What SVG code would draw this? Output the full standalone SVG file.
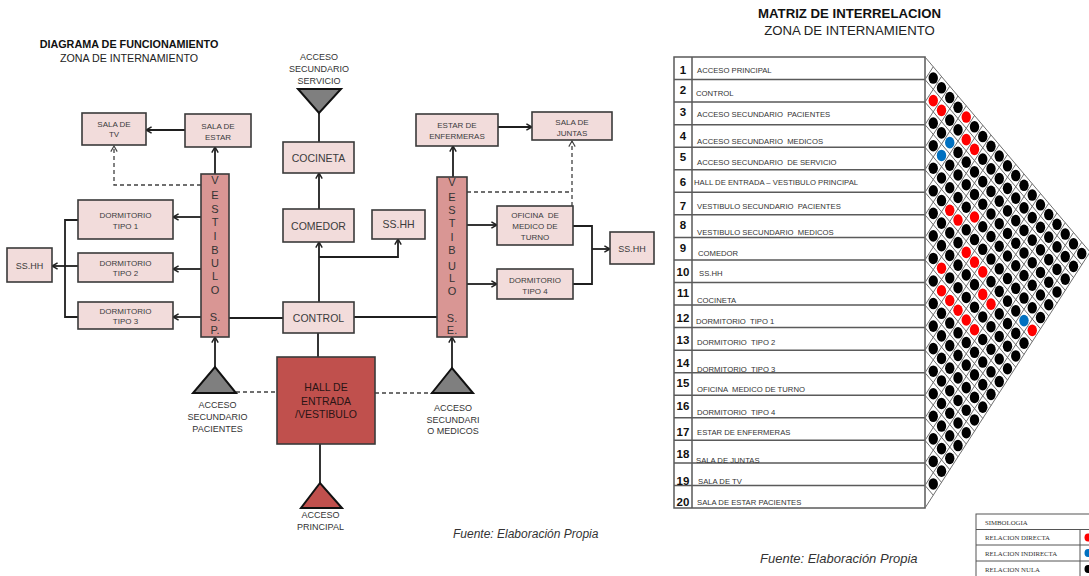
<svg xmlns="http://www.w3.org/2000/svg" xmlns:xlink="http://www.w3.org/1999/xlink" width="1089" height="576" viewBox="0 0 1089 576">
<style>
  text { font-family: "Liberation Sans", Arial, sans-serif; }
  .box { fill: #f2dcdb; stroke: #3a3a3a; stroke-width: 1.6; }
  .vest { fill: #d99694; stroke: #3a3a3a; stroke-width: 1.6; }
  .hall { fill: #c0504d; stroke: #3a3a3a; stroke-width: 1.6; }
  .tri { fill: #7f7f7f; stroke: #111; stroke-width: 2; }
  .tri-red { fill: #c0504d; stroke: #111; stroke-width: 2; }
  .t8 { font-size: 8px; fill: #3b3b3b; text-anchor: middle; white-space: pre; }
  .t10 { font-size: 10.5px; fill: #3b3b3b; text-anchor: middle; }
  .t9 { font-size: 9px; fill: #333; text-anchor: middle; }
  .tv { font-size: 11px; fill: #333; text-anchor: middle; }
  .ln { fill: none; stroke: #1f1f1f; stroke-width: 1.8; }
  .arr { marker-end: url(#ah); }
  .dash { fill: none; stroke: #404040; stroke-width: 1.3; stroke-dasharray: 4 3; }
  .title { font-size: 10.8px; font-weight: bold; fill: #111; text-anchor: middle; }
  .sub { font-size: 10.7px; fill: #222; text-anchor: middle; }
  .src { font-style: italic; fill: #333; }
  .tbl { fill: none; stroke: #5a5a5a; stroke-width: 1.5; }
  .num { font-size: 11.5px; font-weight: bold; fill: #111; text-anchor: middle; }
  .lbl { font-size: 7.7px; fill: #333; white-space: pre; }
  .grid { fill: none; stroke: #6e6e6e; stroke-width: 1; }
  .k { fill: #000; }
  .r { fill: #ff0000; }
  .b { fill: #0070c0; }
  .leg { font-family: "Liberation Serif", "Times New Roman", serif; font-size: 6.8px; fill: #333; }
</style>
<defs>
  <marker id="ah" viewBox="0 0 10 10" refX="9" refY="5" markerWidth="8" markerHeight="8" markerUnits="userSpaceOnUse" orient="auto">
    <path d="M2,1 L9,5 L2,9" fill="none" stroke="#1f1f1f" stroke-width="1.8"/>
  </marker>
  <marker id="ahd" viewBox="0 0 10 10" refX="9" refY="5" markerWidth="8" markerHeight="8" markerUnits="userSpaceOnUse" orient="auto">
    <path d="M2,1 L9,5 L2,9" fill="none" stroke="#404040" stroke-width="1.4"/>
  </marker>
  <ellipse id="dot" cx="0" cy="0" rx="4.7" ry="5.8"/>
</defs>

<rect width="1089" height="576" fill="#fff"/>

<!-- ===== Functional diagram ===== -->
<text class="title" x="129" y="48">DIAGRAMA DE FUNCIONAMIENTO</text>
<text class="sub" x="129" y="62">ZONA DE INTERNAMIENTO</text>

<g id="connectors">
  <path class="ln arr" d="M185,130 H146"/>
  <path class="ln arr" d="M215,174 V147"/>
  <path class="dash" d="M201,185 H114 V146" marker-end="url(#ahd)"/>
  <path class="ln arr" d="M201,217 H173"/>
  <path class="ln arr" d="M201,269 H173"/>
  <path class="ln arr" d="M201,317 H173"/>
  <path class="ln" d="M78,220 H65 V317 H78"/>
  <path class="ln arr" d="M78,266 H52"/>
  <path class="ln" d="M229,318 H283"/>
  <path class="ln" d="M354,317 H437"/>
  <path class="ln arr" d="M319,302 V242"/>
  <path class="ln arr" d="M319,257 H398 V239"/>
  <path class="ln arr" d="M319,209 V173"/>
  <path class="ln" d="M319,113 V142"/>
  <path class="ln" d="M318,333 V357"/>
  <path class="ln" d="M320,444 V483"/>
  <path class="ln arr" d="M215,367 V337"/>
  <path class="dash" d="M236,392 H277"/>
  <path class="ln arr" d="M452,368 V337"/>
  <path class="dash" d="M375,393 H432"/>
  <path class="ln arr" d="M453,177 V146"/>
  <path class="ln arr" d="M498,127 H532"/>
  <path class="dash" d="M467,192 H572"/>
  <path class="dash" d="M572,206 V141" marker-end="url(#ahd)"/>
  <path class="ln arr" d="M467,225 H497"/>
  <path class="ln arr" d="M467,284 H497"/>
  <path class="ln" d="M573,226 H592 V284 H573"/>
  <path class="ln arr" d="M592,249 H610"/>
</g>

<g id="sala-tv"><rect class="box" x="82" y="113" width="64" height="32"/>
  <text class="t8" x="114" y="127.3">SALA DE</text><text class="t8" x="114" y="137">TV</text></g>
<g id="sala-estar"><rect class="box" x="185" y="114" width="66" height="33"/>
  <text class="t8" x="218" y="129">SALA DE</text><text class="t8" x="218" y="139.5">ESTAR</text></g>
<g id="dorm-1"><rect class="box" x="78" y="200" width="95" height="39"/>
  <text class="t8" x="125.5" y="218">DORMITORIO</text><text class="t8" x="125.5" y="228.7">TIPO 1</text></g>
<g id="dorm-2"><rect class="box" x="78" y="253" width="95" height="29"/>
  <text class="t8" x="125.5" y="265.5">DORMITORIO</text><text class="t8" x="125.5" y="276.2">TIPO 2</text></g>
<g id="dorm-3"><rect class="box" x="78" y="302" width="95" height="27"/>
  <text class="t8" x="125.5" y="313.5">DORMITORIO</text><text class="t8" x="125.5" y="324">TIPO 3</text></g>
<g id="sshh-left"><rect class="box" x="7" y="248" width="45" height="34"/>
  <text class="t9" x="29.5" y="269.3" style="fill:#3b3b3b">SS.HH</text></g>
<g id="vestibulo-sp"><rect class="vest" x="201" y="174" width="28" height="163"/>
  <text class="tv" x="215" y="184">V</text><text class="tv" x="215" y="199">E</text>
  <text class="tv" x="215" y="212.5">S</text><text class="tv" x="215" y="226">T</text>
  <text class="tv" x="215" y="240">I</text><text class="tv" x="215" y="254">B</text>
  <text class="tv" x="215" y="266.5">U</text><text class="tv" x="215" y="280">L</text>
  <text class="tv" x="215" y="294">O</text>
  <text class="tv" x="215" y="320.5">S.</text><text class="tv" x="215" y="334">P.</text></g>
<g id="cocineta"><rect class="box" x="283" y="142" width="71" height="31"/>
  <text class="t10" x="318.5" y="162">COCINETA</text></g>
<g id="comedor"><rect class="box" x="283" y="209" width="71" height="33"/>
  <text class="t10" x="318.5" y="229.8">COMEDOR</text></g>
<g id="control"><rect class="box" x="283" y="302" width="71" height="31"/>
  <text class="t10" x="318.5" y="322">CONTROL</text></g>
<g id="sshh-mid"><rect class="box" x="372" y="210" width="53" height="29"/>
  <text class="t10" x="398.5" y="228">SS.HH</text></g>
<g id="vestibulo-se"><rect class="vest" x="437" y="177" width="30" height="160"/>
  <text class="tv" x="452" y="185.5">V</text><text class="tv" x="452" y="200.5">E</text>
  <text class="tv" x="452" y="214">S</text><text class="tv" x="452" y="227">T</text>
  <text class="tv" x="452" y="240.5">I</text><text class="tv" x="452" y="254">B</text>
  <text class="tv" x="452" y="269.5">U</text><text class="tv" x="452" y="281.5">L</text>
  <text class="tv" x="452" y="295">O</text>
  <text class="tv" x="452" y="322">S.</text><text class="tv" x="452" y="334">E.</text></g>
<g id="estar-enfermeras"><rect class="box" x="416" y="114" width="82" height="32"/>
  <text class="t8" x="457" y="128">ESTAR DE</text><text class="t8" x="457" y="138.7">ENFERMERAS</text></g>
<g id="sala-juntas"><rect class="box" x="532" y="112" width="80" height="28"/>
  <text class="t8" x="572" y="124.7">SALA DE</text><text class="t8" x="572" y="135.7">JUNTAS</text></g>
<g id="oficina-medico"><rect class="box" x="497" y="206" width="76" height="39"/>
  <text class="t8" x="535" y="218">OFICINA  DE</text><text class="t8" x="535" y="229">MEDICO DE</text>
  <text class="t8" x="535" y="240.3">TURNO</text></g>
<g id="dorm-4"><rect class="box" x="497" y="269" width="76" height="30"/>
  <text class="t8" x="535" y="283">DORMITORIO</text><text class="t8" x="535" y="294">TIPO 4</text></g>
<g id="sshh-right"><rect class="box" x="610" y="232" width="44" height="32"/>
  <text class="t9" x="632" y="252.3" style="fill:#3b3b3b">SS.HH</text></g>
<g id="hall"><rect class="hall" x="277" y="357" width="98" height="87"/>
  <text class="t10" x="326" y="391" style="fill:#2a1515">HALL DE</text>
  <text class="t10" x="326" y="405" style="fill:#2a1515">ENTRADA</text>
  <text class="t10" x="326" y="418" style="fill:#2a1515">/VESTIBULO</text></g>

<g id="acceso-servicio"><polygon class="tri" points="298,89 341,89 319,113"/>
  <text class="t9" x="319" y="59.5">ACCESO</text><text class="t9" x="319" y="71.5">SECUNDARIO</text>
  <text class="t9" x="319" y="83.5">SERVICIO</text></g>
<g id="acceso-pacientes"><polygon class="tri" points="193,393 236,393 215,367"/>
  <text class="t9" x="217.5" y="407.5">ACCESO</text><text class="t9" x="217.5" y="420">SECUNDARIO</text>
  <text class="t9" x="217.5" y="431.5">PACIENTES</text></g>
<g id="acceso-medicos"><polygon class="tri" points="432,393 473,393 452,368"/>
  <text class="t9" x="453" y="410.5">ACCESO</text><text class="t9" x="453" y="422.5">SECUNDARI</text>
  <text class="t9" x="453" y="434">O MEDICOS</text></g>
<g id="acceso-principal"><polygon class="tri-red" points="301,508 342,508 320,483"/>
  <text class="t9" x="320.5" y="517.5">ACCESO</text><text class="t9" x="320.5" y="529.5">PRINCIPAL</text></g>

<text class="src" x="453" y="538" font-size="12">Fuente: Elaboración Propia</text>

<!-- ===== Interrelation matrix ===== -->
<text x="849.5" y="18" style="font-size:13.2px;font-weight:bold;fill:#111;text-anchor:middle">MATRIZ DE INTERRELACION</text>
<text x="849.5" y="35" style="font-size:13.2px;fill:#222;text-anchor:middle">ZONA DE INTERNAMIENTO</text>

<g id="matrix-table">
  <rect class="tbl" x="674" y="57" width="251" height="451"/>
  <path class="tbl" d="M692,57 V508 M674,79.55 H925 M674,102.1 H925 M674,124.65 H925 M674,147.2 H925 M674,169.75 H925 M674,192.3 H925 M674,214.85 H925 M674,237.4 H925 M674,259.95 H925 M674,282.5 H925 M674,305.05 H925 M674,327.6 H925 M674,350.15 H925 M674,372.7 H925 M674,395.25 H925 M674,417.8 H925 M674,440.35 H925 M674,462.9 H925 M674,485.45 H925"/>
  <g>
    <text class="num" x="683" y="74">1</text><text class="num" x="683" y="94">2</text>
    <text class="num" x="683" y="116">3</text><text class="num" x="683" y="140">4</text>
    <text class="num" x="683" y="160.7">5</text><text class="num" x="683" y="186">6</text>
    <text class="num" x="683" y="209.7">7</text><text class="num" x="683" y="229">8</text>
    <text class="num" x="683" y="252">9</text><text class="num" x="683" y="275.7">10</text>
    <text class="num" x="683" y="297">11</text><text class="num" x="683" y="321.7">12</text>
    <text class="num" x="683" y="344">13</text><text class="num" x="683" y="366.7">14</text>
    <text class="num" x="683" y="387.3">15</text><text class="num" x="683" y="410">16</text>
    <text class="num" x="683" y="436">17</text><text class="num" x="683" y="458">18</text>
    <text class="num" x="683" y="485">19</text><text class="num" x="683" y="505.7">20</text>
  </g>
  <g>
    <text class="lbl" x="697" y="73">ACCESO PRINCIPAL</text>
    <text class="lbl" x="696" y="96">CONTROL</text>
    <text class="lbl" x="697" y="117">ACCESO SECUNDARIO  PACIENTES</text>
    <text class="lbl" x="697" y="144">ACCESO SECUNDARIO  MEDICOS</text>
    <text class="lbl" x="697" y="165">ACCESO SECUNDARIO  DE SERVICIO</text>
    <text class="lbl" x="694" y="185">HALL DE ENTRADA – VESTIBULO PRINCIPAL</text>
    <text class="lbl" x="697" y="208.5">VESTIBULO SECUNDARIO  PACIENTES</text>
    <text class="lbl" x="697" y="234.5">VESTIBULO SECUNDARIO  MEDICOS</text>
    <text class="lbl" x="698" y="256">COMEDOR</text>
    <text class="lbl" x="699" y="276">SS.HH</text>
    <text class="lbl" x="697" y="303">COCINETA</text>
    <text class="lbl" x="696" y="324">DORMITORIO  TIPO 1</text>
    <text class="lbl" x="697" y="345">DORMITORIO  TIPO 2</text>
    <text class="lbl" x="697" y="372">DORMITORIO  TIPO 3</text>
    <text class="lbl" x="697" y="392">OFICINA  MEDICO DE TURNO</text>
    <text class="lbl" x="697" y="415">DORMITORIO  TIPO 4</text>
    <text class="lbl" x="697" y="435">ESTAR DE ENFERMERAS</text>
    <text class="lbl" x="696" y="463">SALA DE JUNTAS</text>
    <text class="lbl" x="698" y="484">SALA DE TV</text>
    <text class="lbl" x="697" y="504.5">SALA DE ESTAR PACIENTES</text>
  </g>
</g>

<g id="matrix-grid">
  <!-- lines running down-right from each row boundary -->
  <path class="grid" d="M925,57 L1090,252 M925,79.55 L1081.75,264.8 M925,102.1 L1073.5,277.6 M925,124.65 L1065.25,290.4 M925,147.2 L1057,303.2 M925,169.75 L1048.75,316 M925,192.3 L1040.5,328.8 M925,214.85 L1032.25,341.6 M925,237.4 L1024,354.4 M925,259.95 L1015.75,367.2 M925,282.5 L1007.5,380 M925,305.05 L999.25,392.8 M925,327.6 L991,405.6 M925,350.15 L982.75,418.4 M925,372.7 L974.5,431.2 M925,395.25 L966.25,444 M925,417.8 L958,456.8 M925,440.35 L949.75,469.6 M925,462.9 L941.5,482.4 M925,485.45 L933.25,495.2"/>
  <!-- lines running up-right from each row boundary -->
  <path class="grid" d="M925,79.55 L933.25,66.75 M925,102.1 L941.5,76.5 M925,124.65 L949.75,86.25 M925,147.2 L958,96 M925,169.75 L966.25,105.75 M925,192.3 L974.5,115.5 M925,214.85 L982.75,125.25 M925,237.4 L991,135 M925,259.95 L999.25,144.75 M925,282.5 L1007.5,154.5 M925,305.05 L1015.75,164.25 M925,327.6 L1024,174 M925,350.15 L1032.25,183.75 M925,372.7 L1040.5,193.5 M925,395.25 L1048.75,203.25 M925,417.8 L1057,213 M925,440.35 L1065.25,222.75 M925,462.9 L1073.5,232.5 M925,485.45 L1081.75,242.25 M925,508 L1090,252"/>
</g>

<g id="matrix-dots">
  <!-- row 1 -->
  <g transform="translate(925,68.28)">
    <use href="#dot" class="k" x="8.25" y="9.75"/><use href="#dot" class="k" x="16.5" y="19.5"/><use href="#dot" class="k" x="24.75" y="29.25"/><use href="#dot" class="k" x="33" y="39"/><use href="#dot" class="r" x="41.25" y="48.75"/><use href="#dot" class="k" x="49.5" y="58.5"/><use href="#dot" class="k" x="57.75" y="68.25"/><use href="#dot" class="k" x="66" y="78"/><use href="#dot" class="k" x="74.25" y="87.75"/><use href="#dot" class="k" x="82.5" y="97.5"/><use href="#dot" class="k" x="90.75" y="107.25"/><use href="#dot" class="k" x="99" y="117"/><use href="#dot" class="k" x="107.25" y="126.75"/><use href="#dot" class="k" x="115.5" y="136.5"/><use href="#dot" class="k" x="123.75" y="146.25"/><use href="#dot" class="k" x="132" y="156"/><use href="#dot" class="k" x="140.25" y="165.75"/><use href="#dot" class="k" x="148.5" y="175.5"/><use href="#dot" class="k" x="156.75" y="185.25"/>
  </g>
  <!-- row 2 -->
  <g transform="translate(925,90.83)">
    <use href="#dot" class="r" x="8.25" y="9.75"/><use href="#dot" class="r" x="16.5" y="19.5"/><use href="#dot" class="k" x="24.75" y="29.25"/><use href="#dot" class="k" x="33" y="39"/><use href="#dot" class="r" x="41.25" y="48.75"/><use href="#dot" class="r" x="49.5" y="58.5"/><use href="#dot" class="k" x="57.75" y="68.25"/><use href="#dot" class="k" x="66" y="78"/><use href="#dot" class="k" x="74.25" y="87.75"/><use href="#dot" class="k" x="82.5" y="97.5"/><use href="#dot" class="k" x="90.75" y="107.25"/><use href="#dot" class="k" x="99" y="117"/><use href="#dot" class="k" x="107.25" y="126.75"/><use href="#dot" class="k" x="115.5" y="136.5"/><use href="#dot" class="k" x="123.75" y="146.25"/><use href="#dot" class="k" x="132" y="156"/><use href="#dot" class="k" x="140.25" y="165.75"/><use href="#dot" class="k" x="148.5" y="175.5"/>
  </g>
  <!-- row 3 -->
  <g transform="translate(925,113.38)">
    <use href="#dot" class="k" x="8.25" y="9.75"/><use href="#dot" class="k" x="16.5" y="19.5"/><use href="#dot" class="b" x="24.75" y="29.25"/><use href="#dot" class="k" x="33" y="39"/><use href="#dot" class="k" x="41.25" y="48.75"/><use href="#dot" class="k" x="49.5" y="58.5"/><use href="#dot" class="k" x="57.75" y="68.25"/><use href="#dot" class="k" x="66" y="78"/><use href="#dot" class="k" x="74.25" y="87.75"/><use href="#dot" class="k" x="82.5" y="97.5"/><use href="#dot" class="k" x="90.75" y="107.25"/><use href="#dot" class="k" x="99" y="117"/><use href="#dot" class="k" x="107.25" y="126.75"/><use href="#dot" class="k" x="115.5" y="136.5"/><use href="#dot" class="k" x="123.75" y="146.25"/><use href="#dot" class="k" x="132" y="156"/><use href="#dot" class="k" x="140.25" y="165.75"/>
  </g>
  <!-- row 4 -->
  <g transform="translate(925,135.93)">
    <use href="#dot" class="k" x="8.25" y="9.75"/><use href="#dot" class="b" x="16.5" y="19.5"/><use href="#dot" class="k" x="24.75" y="29.25"/><use href="#dot" class="k" x="33" y="39"/><use href="#dot" class="k" x="41.25" y="48.75"/><use href="#dot" class="k" x="49.5" y="58.5"/><use href="#dot" class="k" x="57.75" y="68.25"/><use href="#dot" class="k" x="66" y="78"/><use href="#dot" class="k" x="74.25" y="87.75"/><use href="#dot" class="k" x="82.5" y="97.5"/><use href="#dot" class="k" x="90.75" y="107.25"/><use href="#dot" class="k" x="99" y="117"/><use href="#dot" class="k" x="107.25" y="126.75"/><use href="#dot" class="k" x="115.5" y="136.5"/><use href="#dot" class="k" x="123.75" y="146.25"/><use href="#dot" class="k" x="132" y="156"/>
  </g>
  <!-- row 5 -->
  <g transform="translate(925,158.48)">
    <use href="#dot" class="k" x="8.25" y="9.75"/><use href="#dot" class="k" x="16.5" y="19.5"/><use href="#dot" class="k" x="24.75" y="29.25"/><use href="#dot" class="k" x="33" y="39"/><use href="#dot" class="k" x="41.25" y="48.75"/><use href="#dot" class="r" x="49.5" y="58.5"/><use href="#dot" class="k" x="57.75" y="68.25"/><use href="#dot" class="k" x="66" y="78"/><use href="#dot" class="k" x="74.25" y="87.75"/><use href="#dot" class="k" x="82.5" y="97.5"/><use href="#dot" class="k" x="90.75" y="107.25"/><use href="#dot" class="k" x="99" y="117"/><use href="#dot" class="k" x="107.25" y="126.75"/><use href="#dot" class="k" x="115.5" y="136.5"/><use href="#dot" class="k" x="123.75" y="146.25"/>
  </g>
  <!-- row 6 -->
  <g transform="translate(925,181.03)">
    <use href="#dot" class="k" x="8.25" y="9.75"/><use href="#dot" class="k" x="16.5" y="19.5"/><use href="#dot" class="r" x="24.75" y="29.25"/><use href="#dot" class="r" x="33" y="39"/><use href="#dot" class="k" x="41.25" y="48.75"/><use href="#dot" class="k" x="49.5" y="58.5"/><use href="#dot" class="k" x="57.75" y="68.25"/><use href="#dot" class="k" x="66" y="78"/><use href="#dot" class="k" x="74.25" y="87.75"/><use href="#dot" class="k" x="82.5" y="97.5"/><use href="#dot" class="k" x="90.75" y="107.25"/><use href="#dot" class="k" x="99" y="117"/><use href="#dot" class="k" x="107.25" y="126.75"/><use href="#dot" class="k" x="115.5" y="136.5"/>
  </g>
  <!-- row 7 -->
  <g transform="translate(925,203.58)">
    <use href="#dot" class="k" x="8.25" y="9.75"/><use href="#dot" class="k" x="16.5" y="19.5"/><use href="#dot" class="k" x="24.75" y="29.25"/><use href="#dot" class="k" x="33" y="39"/><use href="#dot" class="r" x="41.25" y="48.75"/><use href="#dot" class="r" x="49.5" y="58.5"/><use href="#dot" class="r" x="57.75" y="68.25"/><use href="#dot" class="k" x="66" y="78"/><use href="#dot" class="k" x="74.25" y="87.75"/><use href="#dot" class="k" x="82.5" y="97.5"/><use href="#dot" class="k" x="90.75" y="107.25"/><use href="#dot" class="b" x="99" y="117"/><use href="#dot" class="r" x="107.25" y="126.75"/>
  </g>
  <!-- row 8 -->
  <g transform="translate(925,226.13)">
    <use href="#dot" class="k" x="8.25" y="9.75"/><use href="#dot" class="k" x="16.5" y="19.5"/><use href="#dot" class="k" x="24.75" y="29.25"/><use href="#dot" class="k" x="33" y="39"/><use href="#dot" class="k" x="41.25" y="48.75"/><use href="#dot" class="k" x="49.5" y="58.5"/><use href="#dot" class="r" x="57.75" y="68.25"/><use href="#dot" class="r" x="66" y="78"/><use href="#dot" class="k" x="74.25" y="87.75"/><use href="#dot" class="k" x="82.5" y="97.5"/><use href="#dot" class="k" x="90.75" y="107.25"/><use href="#dot" class="k" x="99" y="117"/>
  </g>
  <!-- row 9 -->
  <g transform="translate(925,248.68)">
    <use href="#dot" class="k" x="8.25" y="9.75"/><use href="#dot" class="r" x="16.5" y="19.5"/><use href="#dot" class="k" x="24.75" y="29.25"/><use href="#dot" class="k" x="33" y="39"/><use href="#dot" class="k" x="41.25" y="48.75"/><use href="#dot" class="k" x="49.5" y="58.5"/><use href="#dot" class="k" x="57.75" y="68.25"/><use href="#dot" class="k" x="66" y="78"/><use href="#dot" class="k" x="74.25" y="87.75"/><use href="#dot" class="k" x="82.5" y="97.5"/><use href="#dot" class="k" x="90.75" y="107.25"/>
  </g>
  <!-- row 10 -->
  <g transform="translate(925,271.23)">
    <use href="#dot" class="k" x="8.25" y="9.75"/><use href="#dot" class="r" x="16.5" y="19.5"/><use href="#dot" class="r" x="24.75" y="29.25"/><use href="#dot" class="r" x="33" y="39"/><use href="#dot" class="r" x="41.25" y="48.75"/><use href="#dot" class="r" x="49.5" y="58.5"/><use href="#dot" class="k" x="57.75" y="68.25"/><use href="#dot" class="k" x="66" y="78"/><use href="#dot" class="k" x="74.25" y="87.75"/><use href="#dot" class="k" x="82.5" y="97.5"/>
  </g>
  <!-- row 11 -->
  <g transform="translate(925,293.78)">
    <use href="#dot" class="k" x="8.25" y="9.75"/><use href="#dot" class="k" x="16.5" y="19.5"/><use href="#dot" class="k" x="24.75" y="29.25"/><use href="#dot" class="k" x="33" y="39"/><use href="#dot" class="k" x="41.25" y="48.75"/><use href="#dot" class="k" x="49.5" y="58.5"/><use href="#dot" class="k" x="57.75" y="68.25"/><use href="#dot" class="k" x="66" y="78"/><use href="#dot" class="k" x="74.25" y="87.75"/>
  </g>
  <!-- row 12 -->
  <g transform="translate(925,316.33)">
    <use href="#dot" class="k" x="8.25" y="9.75"/><use href="#dot" class="k" x="16.5" y="19.5"/><use href="#dot" class="k" x="24.75" y="29.25"/><use href="#dot" class="k" x="33" y="39"/><use href="#dot" class="k" x="41.25" y="48.75"/><use href="#dot" class="k" x="49.5" y="58.5"/><use href="#dot" class="k" x="57.75" y="68.25"/><use href="#dot" class="k" x="66" y="78"/>
  </g>
  <!-- row 13 -->
  <g transform="translate(925,338.88)">
    <use href="#dot" class="k" x="8.25" y="9.75"/><use href="#dot" class="k" x="16.5" y="19.5"/><use href="#dot" class="k" x="24.75" y="29.25"/><use href="#dot" class="k" x="33" y="39"/><use href="#dot" class="k" x="41.25" y="48.75"/><use href="#dot" class="k" x="49.5" y="58.5"/><use href="#dot" class="k" x="57.75" y="68.25"/>
  </g>
  <!-- row 14 -->
  <g transform="translate(925,361.43)">
    <use href="#dot" class="k" x="8.25" y="9.75"/><use href="#dot" class="k" x="16.5" y="19.5"/><use href="#dot" class="k" x="24.75" y="29.25"/><use href="#dot" class="k" x="33" y="39"/><use href="#dot" class="k" x="41.25" y="48.75"/><use href="#dot" class="k" x="49.5" y="58.5"/>
  </g>
  <!-- row 15 -->
  <g transform="translate(925,383.98)">
    <use href="#dot" class="k" x="8.25" y="9.75"/><use href="#dot" class="k" x="16.5" y="19.5"/><use href="#dot" class="k" x="24.75" y="29.25"/><use href="#dot" class="k" x="33" y="39"/><use href="#dot" class="k" x="41.25" y="48.75"/>
  </g>
  <!-- row 16 -->
  <g transform="translate(925,406.53)">
    <use href="#dot" class="k" x="8.25" y="9.75"/><use href="#dot" class="k" x="16.5" y="19.5"/><use href="#dot" class="k" x="24.75" y="29.25"/><use href="#dot" class="k" x="33" y="39"/>
  </g>
  <!-- row 17 -->
  <g transform="translate(925,429.08)">
    <use href="#dot" class="k" x="8.25" y="9.75"/><use href="#dot" class="k" x="16.5" y="19.5"/><use href="#dot" class="k" x="24.75" y="29.25"/>
  </g>
  <!-- row 18 -->
  <g transform="translate(925,451.63)">
    <use href="#dot" class="k" x="8.25" y="9.75"/><use href="#dot" class="k" x="16.5" y="19.5"/>
  </g>
  <!-- row 19 -->
  <g transform="translate(925,474.18)">
    <use href="#dot" class="k" x="8.25" y="9.75"/>
  </g>
</g>

<text class="src" x="760" y="563" font-size="13">Fuente: Elaboración Propia</text>

<g id="legend">
  <rect x="976" y="514" width="120" height="64" fill="#fff" stroke="#555" stroke-width="1"/>
  <path d="M976,529.5 H1096 M976,545 H1096 M976,561 H1096 M1080,529.5 V578" fill="none" stroke="#555" stroke-width="1"/>
  <text class="leg" x="985" y="524.5">SIMBOLOGIA</text>
  <text class="leg" x="985" y="540">RELACION DIRECTA</text>
  <text class="leg" x="985" y="556">RELACION INDIRECTA</text>
  <text class="leg" x="985" y="572">RELACION NULA</text>
  <ellipse cx="1088" cy="537.5" rx="3.5" ry="4" fill="#ff0000"/>
  <ellipse cx="1088" cy="553" rx="3.5" ry="4" fill="#0070c0"/>
  <ellipse cx="1088" cy="569" rx="3.5" ry="4" fill="#000"/>
</g>
</svg>
